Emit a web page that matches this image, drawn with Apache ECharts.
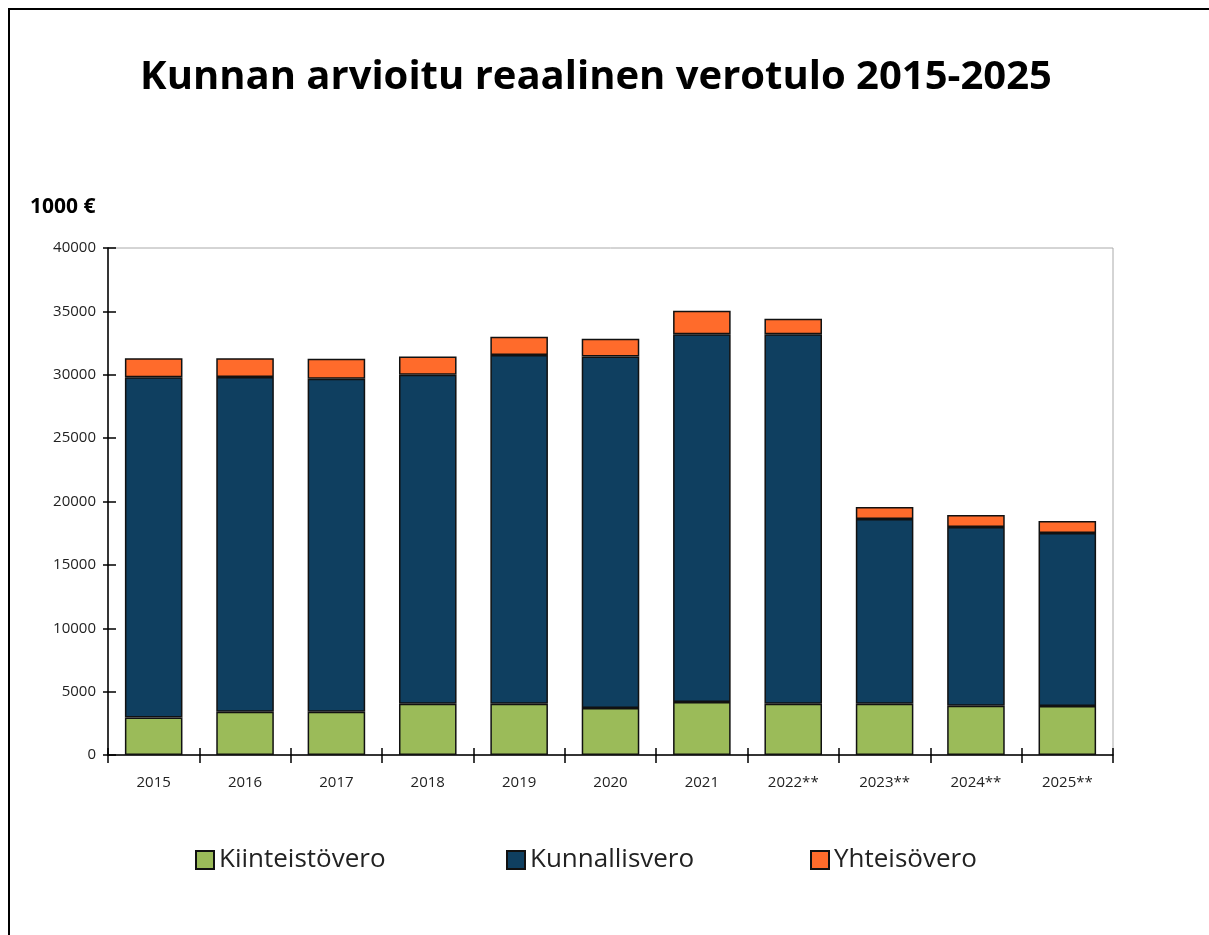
<!DOCTYPE html>
<html>
<head>
<meta charset="utf-8">
<script src="https://cdn.jsdelivr.net/npm/echarts@6/dist/echarts.min.js"></script>
<style>
  html, body { margin: 0; padding: 0; background: #fff; }
  #main { width: 1209px; height: 935px; }
</style>
</head>
<body>
<div id="main"></div>
<script>
// vuodet ja verolajit (1000 €)
var years = ['2015', '2016', '2017', '2018', '2019', '2020', '2021', '2022**', '2023**', '2024**', '2025**'];
var names = ['Kiinteistövero', 'Kunnallisvero', 'Yhteisövero'];
var kiinteisto = [2950, 3420, 3420, 4050, 4050, 3700, 4180, 4050, 4050, 3890, 3870];
var kunnallis = [26850, 26400, 26270, 25950, 27510, 27730, 29010, 29140, 14570, 14100, 13640];
var yhteiso = [1500, 1480, 1580, 1430, 1440, 1420, 1860, 1230, 950, 940, 950];

var font = "'Open Sans', 'DejaVu Sans', sans-serif";
var chart = echarts.init(document.getElementById('main'));

function bar(name, data, color) {
    return {
        name: name,
        type: 'bar',
        stack: 'vero',
        data: data,
        barWidth: '63%',
        itemStyle: { color: color, borderColor: '#111', borderWidth: 1.5 }
    };
}

// jokainen selite omaan kohtaansa
var legendLeft = [190, 501, 805];
var legends = names.map(function (n, i) {
    return {
        bottom: 57, left: legendLeft[i],
        itemWidth: 18, itemHeight: 18, icon: 'rect', itemGap: 8,
        textStyle: { fontFamily: font, fontSize: 26, color: '#222' },
        data: [n]
    };
});

chart.setOption({
    animation: false,
    title: {
        text: 'Kunnan arvioitu reaalinen verotulo 2015-2025',
        left: 591, top: 53, textAlign: 'center',
        textStyle: { fontFamily: font, fontSize: 40, fontWeight: 'bold', color: '#000' }
    },
    graphic: [
        { type: 'rect', shape: { x: 9, y: 9, width: 1400, height: 1200 },
          style: { fill: 'none', stroke: '#000', lineWidth: 2 } },
        { type: 'text', left: 30, top: 197,
          style: { text: '1000 €', font: 'bold 21px ' + font, fill: '#000' } }
    ],
    legend: legends,
    grid: {
        left: 108, right: 96, top: 248, bottom: 180,
        show: true, borderColor: '#aaa', borderWidth: 1
    },
    xAxis: [{
        type: 'category', data: years,
        axisLine: { lineStyle: { color: '#000', width: 1.5 } },
        axisTick: { show: true, length: 8, lineStyle: { color: '#000', width: 1.5 } },
        axisLabel: { fontFamily: font, fontSize: 15, color: '#222', margin: 20 }
    }, {
        type: 'category', data: years, position: 'bottom',
        axisLine: { show: false },
        axisTick: { show: true, inside: true, length: 7, lineStyle: { color: '#000', width: 1.5 } },
        axisLabel: { show: false }
    }],
    yAxis: [{
        type: 'value', min: 0, max: 40000, interval: 5000,
        axisLine: { show: true, lineStyle: { color: '#000', width: 1.5 } },
        axisTick: { show: true, length: 5, lineStyle: { color: '#000', width: 1.5 } },
        axisLabel: { fontFamily: font, fontSize: 15, color: '#222', margin: 12,
                     formatter: function (v) { return String(v); } },
        splitLine: { show: false }
    }, {
        type: 'value', min: 0, max: 40000, interval: 5000, position: 'left',
        axisLine: { show: false },
        axisTick: { show: true, inside: true, length: 8, lineStyle: { color: '#000', width: 1.5 } },
        axisLabel: { show: false },
        splitLine: { show: false }
    }],
    series: [
        bar(names[0], kiinteisto, '#9BBB59'),
        bar(names[1], kunnallis, '#0F3F60'),
        bar(names[2], yhteiso, '#FF6B2B')
    ]
});
</script>
</body>
</html>
